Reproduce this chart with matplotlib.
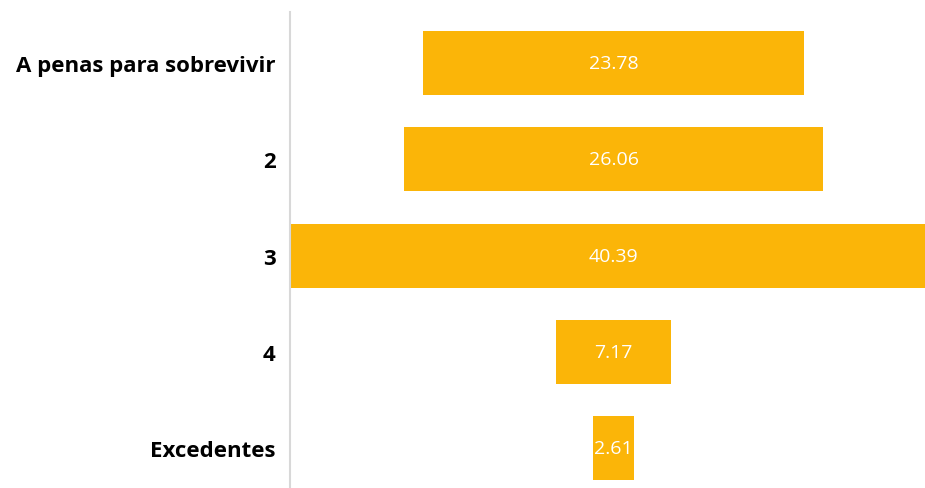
import matplotlib
matplotlib.use("Agg")
import matplotlib.pyplot as plt

categories = ["A penas para sobrevivir", "2", "3", "4", "Excedentes"]
values = [23.78, 26.06, 40.39, 7.17, 2.61]

bar_color = "#FBB508"

fig = plt.figure(figsize=(9.25, 4.89), dpi=100)
# axes runs slightly past the right edge so the widest bar is clipped by the canvas
ax = fig.add_axes([289.5 / 925, 0.0, 648 / 925, (489 - 13) / 489])

half = max(values) / 2
ypos = list(range(len(categories)))
lefts = [-v / 2 for v in values]
ax.barh(ypos, values, left=lefts, height=0.663, color=bar_color, edgecolor="none")

for y, v in zip(ypos, values):
    ax.text(0, y, f"{v:.2f}", ha="center", va="center", color="white",
            fontsize=14, family="Open Sans")

ax.set_xlim(-half, half)
ax.set_ylim(4.41, -0.525)
ax.set_yticks(ypos)
ax.set_yticklabels(categories, fontsize=16, fontweight="bold", family="Open Sans",
                   color="black")
ax.tick_params(axis="y", length=0, pad=10)
ax.set_xticks([])
for s in ["top", "right", "bottom"]:
    ax.spines[s].set_visible(False)
ax.spines["left"].set_color("#d8d8d8")
ax.spines["left"].set_linewidth(1.5)

fig.savefig("out.png", dpi=100)
